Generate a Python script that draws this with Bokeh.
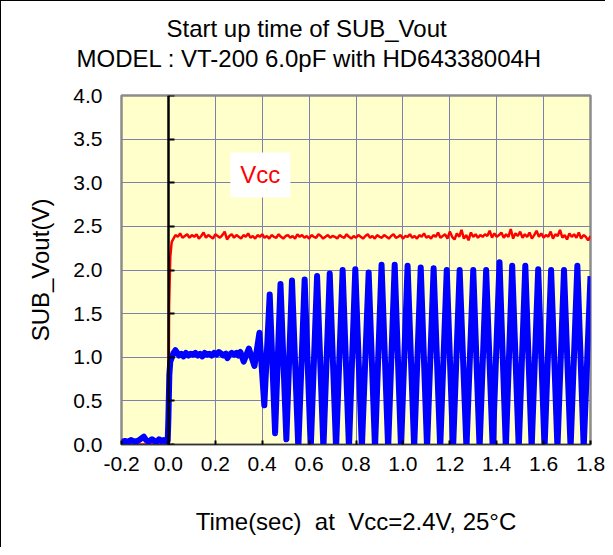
from bokeh.plotting import figure
from bokeh.models import LinearAxis, FixedTicker, PrintfTickFormatter, Label, Range1d, Title
from bokeh.embed import file_html
from bokeh.resources import INLINE

# ---------------- data ----------------
x_ticks = [-0.2, 0.0, 0.2, 0.4, 0.6, 0.8, 1.0, 1.2, 1.4, 1.6, 1.8]
y_ticks = [0.0, 0.5, 1.0, 1.5, 2.0, 2.5, 3.0, 3.5, 4.0]

# Vcc (red) trace
vcc_t = [-0.2, 0.0, 0.003, 0.008, 0.014,
         0.02, 0.03, 0.04, 0.05, 0.06, 0.07, 0.08, 0.09, 0.10, 0.11,
         0.12, 0.13, 0.14, 0.15, 0.16, 0.17, 0.18, 0.19, 0.20, 0.21,
         0.22, 0.23, 0.24, 0.25, 0.26, 0.27, 0.28, 0.29, 0.30, 0.31,
         0.32, 0.33, 0.34, 0.35, 0.36, 0.37, 0.38, 0.39, 0.40, 0.41,
         0.42, 0.43, 0.44, 0.45, 0.46, 0.47, 0.48, 0.49, 0.50, 0.51,
         0.52, 0.53, 0.54, 0.55, 0.56, 0.57, 0.58, 0.59, 0.60, 0.61,
         0.62, 0.63, 0.64, 0.65, 0.66, 0.67, 0.68, 0.69, 0.70, 0.71,
         0.72, 0.73, 0.74, 0.75, 0.76, 0.77, 0.78, 0.79, 0.80, 0.81,
         0.82, 0.83, 0.84, 0.85, 0.86, 0.87, 0.88, 0.89, 0.90, 0.91,
         0.92, 0.93, 0.94, 0.95, 0.96, 0.97, 0.98, 0.99, 1.00, 1.01,
         1.02, 1.03, 1.04, 1.05, 1.06, 1.07, 1.08, 1.09, 1.10, 1.11,
         1.12, 1.13, 1.14, 1.15, 1.16, 1.17, 1.18, 1.19, 1.20, 1.21,
         1.22, 1.23, 1.24, 1.25, 1.26, 1.27, 1.28, 1.29, 1.30, 1.31,
         1.32, 1.33, 1.34, 1.35, 1.36, 1.37, 1.38, 1.39, 1.40, 1.41,
         1.42, 1.43, 1.44, 1.45, 1.46, 1.47, 1.48, 1.49, 1.50, 1.51,
         1.52, 1.53, 1.54, 1.55, 1.56, 1.57, 1.58, 1.59, 1.60, 1.61,
         1.62, 1.63, 1.64, 1.65, 1.66, 1.67, 1.68, 1.69, 1.70, 1.71,
         1.72, 1.73, 1.74, 1.75, 1.76, 1.77, 1.78, 1.79, 1.80]
vcc_v = [0.0, 0.0, 1.6, 2.15, 2.32,
         2.35, 2.40, 2.38, 2.42, 2.37, 2.39, 2.41, 2.37, 2.40, 2.38,
         2.41, 2.36, 2.39, 2.43, 2.37, 2.40, 2.38, 2.36, 2.41, 2.39,
         2.37, 2.40, 2.44, 2.35, 2.39, 2.41, 2.37, 2.40, 2.38, 2.36,
         2.40, 2.38, 2.42, 2.37, 2.39, 2.36, 2.40, 2.38, 2.41, 2.37,
         2.39, 2.36, 2.40, 2.38, 2.37, 2.41, 2.38, 2.36, 2.39, 2.40,
         2.37, 2.39, 2.36, 2.41, 2.38, 2.40, 2.37, 2.39, 2.36, 2.40,
         2.38, 2.37, 2.41, 2.39, 2.36, 2.38, 2.40, 2.37, 2.39, 2.38,
         2.36, 2.40, 2.38, 2.37, 2.41, 2.38, 2.36, 2.39, 2.37, 2.40,
         2.38, 2.36, 2.39, 2.41, 2.37, 2.39, 2.36, 2.40, 2.38, 2.37,
         2.40, 2.38, 2.36, 2.39, 2.41, 2.37, 2.38, 2.40, 2.36, 2.39,
         2.38, 2.41, 2.37, 2.39, 2.36, 2.40, 2.38, 2.42, 2.37, 2.39,
         2.36, 2.40, 2.38, 2.43, 2.37, 2.39, 2.41, 2.36, 2.44, 2.38,
         2.35, 2.42, 2.38, 2.46, 2.36, 2.40, 2.34, 2.43, 2.38, 2.41,
         2.37, 2.40, 2.38, 2.41, 2.39, 2.45, 2.37, 2.42, 2.38, 2.40,
         2.43, 2.37, 2.41, 2.38, 2.47, 2.36, 2.42, 2.39, 2.44, 2.37,
         2.41, 2.38, 2.43, 2.36, 2.40, 2.45, 2.38, 2.42, 2.37, 2.40,
         2.38, 2.44, 2.36, 2.41, 2.39, 2.46, 2.37, 2.40, 2.35, 2.42,
         2.38, 2.41, 2.37, 2.43, 2.36, 2.40, 2.38, 2.34, 2.39]

# SUB_Vout (blue) trace
sub_t = [-0.200, -0.185, -0.170, -0.160, -0.150, -0.140, -0.125, -0.115, -0.105, -0.095,
         -0.085, -0.070, -0.060, -0.050, -0.040, -0.030, -0.020, -0.010, -0.003,
         0.000, 0.004, 0.008, 0.015, 0.022, 0.030, 0.038, 0.045, 0.055, 0.065,
         0.075, 0.085, 0.095, 0.105, 0.115, 0.125, 0.135, 0.145, 0.155, 0.165,
         0.175, 0.185, 0.195, 0.205, 0.215, 0.225, 0.235, 0.245, 0.252, 0.260,
         0.270, 0.280, 0.290, 0.298, 0.307, 0.321, 0.343, 0.367, 0.388, 0.409,
         0.432, 0.455, 0.478, 0.503, 0.527, 0.554, 0.581, 0.607, 0.634, 0.661,
         0.688, 0.715, 0.743, 0.770, 0.797, 0.825, 0.854, 0.881, 0.909, 0.937,
         0.965, 0.992, 1.020, 1.048, 1.076, 1.103, 1.131, 1.159, 1.187, 1.214,
         1.242, 1.271, 1.300, 1.327, 1.355, 1.383, 1.412, 1.439, 1.466, 1.494,
         1.522, 1.549, 1.577, 1.604, 1.632, 1.659, 1.687, 1.715, 1.744, 1.771,
         1.800]
sub_v = [0.03, 0.04, 0.03, 0.05, 0.04, 0.03, 0.05, 0.07, 0.09, 0.05,
         0.03, 0.06, 0.04, 0.03, 0.06, 0.04, 0.05, 0.03, 0.04,
         0.30, 0.80, 0.95, 1.00, 1.05, 1.08, 1.05, 1.02, 1.04, 1.01,
         1.05, 1.02, 1.04, 1.03, 1.05, 1.02, 1.04, 1.01, 1.05, 1.03,
         1.04, 1.02, 1.05, 1.03, 1.06, 1.04, 1.02, 1.04, 0.99, 1.03,
         1.05, 1.03, 1.05, 1.02, 1.06, 0.95, 1.10, 0.90, 1.28, 0.45,
         1.72, 0.13, 1.84, 0.06, 1.88, -0.04, 1.89, -0.04, 1.93, -0.04,
         1.96, -0.04, 2.00, -0.04, 2.01, -0.04, 1.97, -0.04, 2.06, -0.04,
         2.06, -0.04, 2.05, -0.04, 2.03, -0.04, 2.02, -0.04, 2.00, -0.04,
         2.00, -0.04, 2.00, -0.04, 2.00, -0.04, 2.09, -0.04, 2.05, -0.04,
         2.05, -0.04, 2.01, -0.04, 2.00, -0.04, 2.00, -0.04, 2.05, -0.04,
         1.93]

title_line1 = "Start up time of SUB_Vout"
title_line2 = "MODEL : VT-200 6.0pF with HD64338004H"
x_title = "Time(sec)\u00a0 at\u00a0 Vcc=2.4V, 25\u00b0C"
y_title = "SUB_Vout(V)"

# ---------------- figure ----------------
FONT = "Liberation Sans"

p = figure(width=605, height=547, output_backend="svg", toolbar_location=None,
           x_range=Range1d(-0.2, 1.8), y_range=Range1d(0, 4),
           min_border_left=120, min_border_right=16, min_border_top=94, min_border_bottom=104,
           background_fill_color="#FFFFCC", border_fill_color="white")
p.styles = {"border-left": "1px solid black", "border-top": "1px solid black"}

p.outline_line_color = "#8c8c8c"
p.outline_line_width = 2.5

p.xgrid.ticker = FixedTicker(ticks=x_ticks)
p.ygrid.ticker = FixedTicker(ticks=y_ticks)
p.grid.grid_line_color = "#7f7fae"
p.grid.grid_line_width = 1

# bottom axis
xa = p.xaxis[0]
xa.ticker = FixedTicker(ticks=x_ticks)
xa.formatter = PrintfTickFormatter(format="%.1f")
xa.axis_line_color = "#333333"
xa.major_tick_in = 4
xa.major_tick_out = 0
xa.major_tick_line_color = "black"
xa.major_tick_line_width = 2
xa.minor_tick_line_color = None
xa.major_label_standoff = 12
xa.major_label_text_font = FONT
xa.major_label_text_font_size = "21px"
xa.major_label_text_color = "black"
xa.axis_label = x_title
xa.axis_label_text_font = FONT
xa.axis_label_text_font_size = "24px"
xa.axis_label_text_font_style = "normal"
xa.axis_label_text_color = "black"
xa.axis_label_standoff = 34

# left axis (labels only)
ya = p.yaxis[0]
ya.ticker = FixedTicker(ticks=y_ticks)
ya.formatter = PrintfTickFormatter(format="%.1f")
ya.axis_line_color = None
ya.major_tick_line_color = None
ya.minor_tick_line_color = None
ya.major_label_standoff = 13
ya.major_label_text_font = FONT
ya.major_label_text_font_size = "21px"
ya.major_label_text_color = "black"
ya.axis_label = y_title
ya.axis_label_text_font = FONT
ya.axis_label_text_font_size = "24px"
ya.axis_label_text_font_style = "normal"
ya.axis_label_text_color = "black"
ya.axis_label_standoff = 16

# vertical axis line at t = 0 with inward ticks
ya0 = LinearAxis(fixed_location=0, ticker=FixedTicker(ticks=y_ticks))
ya0.axis_line_color = "black"
ya0.axis_line_width = 2.5
ya0.major_tick_in = 6
ya0.major_tick_out = 0
ya0.major_tick_line_color = "black"
ya0.major_tick_line_width = 2
ya0.minor_tick_line_color = None
ya0.major_label_text_font_size = "0px"
ya0.major_label_text_color = None
p.add_layout(ya0, "left")

# traces
p.line(vcc_t, vcc_v, line_color="#ff0000", line_width=2.5)
p.line(sub_t, sub_v, line_color="#0000ff", line_width=6, line_join="round")

# Vcc label
p.add_layout(Label(x=0.392, y=3.09, text="Vcc", text_color="#ff0000",
                   text_font=FONT, text_font_size="24px",
                   text_align="center", text_baseline="middle",
                   background_fill_color="white", padding=(10, 9)))

# titles: spacer nearest the frame, then the two title lines
p.add_layout(Title(text=" ", text_font_size="1px", standoff=20), "above")
p.add_layout(Title(text=title_line2, align="left", offset=-45,
                   text_font=FONT, text_font_size="24px", text_font_style="normal",
                   text_color="black", standoff=1), "above")
p.add_layout(Title(text=title_line1, align="left", offset=45,
                   text_font=FONT, text_font_size="24px", text_font_style="normal",
                   text_color="black", standoff=1), "above")

open("out.html", "w").write(file_html(p, INLINE))
